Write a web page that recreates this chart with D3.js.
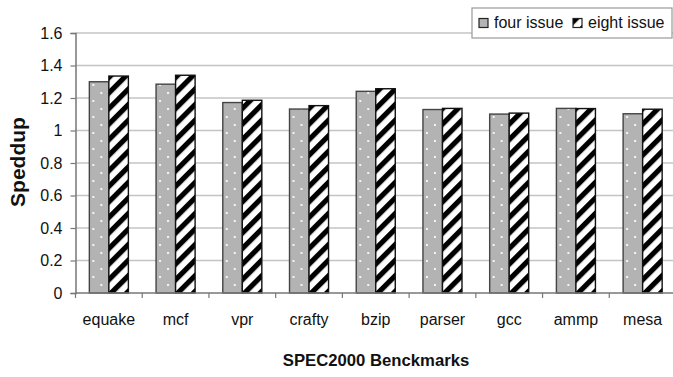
<!DOCTYPE html>
<html>
<head>
<meta charset="utf-8">
<script src="https://cdn.jsdelivr.net/npm/d3@7"></script>
<style>
  body { margin: 0; background: #fff; }
  svg { display: block; font-family: "Liberation Sans", Arial, Helvetica, sans-serif; }
</style>
</head>
<body>
<div id="chart"></div>
<script>
// Data
const benchmarks = ["equake", "mcf", "vpr", "crafty", "bzip", "parser", "gcc", "ammp", "mesa"];
const seriesNames = ["four issue", "eight issue"];
const fourIssue  = [1.300, 1.285, 1.172, 1.132, 1.241, 1.129, 1.101, 1.136, 1.103];
const eightIssue = [1.335, 1.340, 1.186, 1.153, 1.257, 1.136, 1.107, 1.135, 1.131];
const yTicks = [0, 0.2, 0.4, 0.6, 0.8, 1, 1.2, 1.4, 1.6];

const W = 673, H = 377;
const plot = { left: 75.5, right: 676, top: 33, bottom: 293 };

const svg = d3.select("#chart").append("svg")
  .attr("width", W)
  .attr("height", H);

// Fill patterns
const defs = svg.append("defs");
const dots = defs.append("pattern")
  .attr("id", "dots")
  .attr("patternUnits", "userSpaceOnUse")
  .attr("width", 16).attr("height", 16);
dots.append("rect").attr("width", 16).attr("height", 16).attr("fill", "#b3b3b3");
dots.append("rect").attr("x", 3).attr("y", 4).attr("width", 2).attr("height", 2).attr("fill", "#f4f4f4");
dots.append("rect").attr("x", 11).attr("y", 12).attr("width", 2).attr("height", 2).attr("fill", "#f4f4f4");

const hatch = defs.append("pattern")
  .attr("id", "hatch")
  .attr("patternUnits", "userSpaceOnUse")
  .attr("width", 11).attr("height", 11)
  .attr("patternTransform", "rotate(45)");
hatch.append("rect").attr("width", 11).attr("height", 11).attr("fill", "#fff");
hatch.append("rect").attr("width", 5.2).attr("height", 11).attr("fill", "#000");

const fills = ["url(#dots)", "url(#hatch)"];
const strokes = ["#444", "#111"];

// Scales
const x0 = d3.scaleBand()
  .domain(benchmarks)
  .range([plot.left, plot.right])
  .paddingInner(0.415)
  .paddingOuter(0.2075);

const x1 = d3.scaleBand()
  .domain(seriesNames)
  .range([0, x0.bandwidth()]);

const y = d3.scaleLinear()
  .domain([0, 1.6])
  .range([plot.bottom, plot.top]);

// Gridlines
svg.append("g")
  .selectAll("line")
  .data(yTicks.filter(d => d > 0))
  .join("line")
    .attr("x1", plot.left).attr("x2", plot.right)
    .attr("y1", d => y(d)).attr("y2", d => y(d))
    .attr("stroke", "#c4c4c4")
    .attr("stroke-width", 1.5);

// Bars
const rows = benchmarks.map((b, i) => ({ key: b, values: [fourIssue[i], eightIssue[i]] }));
const groups = svg.append("g")
  .selectAll("g")
  .data(rows)
  .join("g")
    .attr("transform", d => `translate(${x0(d.key)},0)`);

groups.selectAll("rect")
  .data(d => d.values.map((v, j) => ({ name: seriesNames[j], value: v, j })))
  .join("rect")
    .attr("x", d => x1(d.name))
    .attr("y", d => y(d.value))
    .attr("width", x1.bandwidth())
    .attr("height", d => y(0) - y(d.value))
    .attr("fill", d => fills[d.j])
    .attr("stroke", d => strokes[d.j])
    .attr("stroke-width", 1.4);

// Y axis
const yAxis = d3.axisLeft(y)
  .tickValues(yTicks)
  .tickSize(5)
  .tickPadding(8)
  .tickFormat(d => String(+d.toFixed(1)));

const yg = svg.append("g")
  .attr("transform", `translate(${plot.left},0)`)
  .call(yAxis);
yg.select(".domain").attr("stroke", "#777").attr("stroke-width", 1.5);
yg.selectAll(".tick line").attr("stroke", "#777").attr("stroke-width", 1.2);
yg.selectAll(".tick text").attr("font-size", 16).attr("fill", "#111")
  .attr("font-family", "'Liberation Sans', Arial, sans-serif");

// X axis line + ticks between categories
const xg = svg.append("g");
xg.append("line")
  .attr("x1", plot.left).attr("x2", plot.right)
  .attr("y1", plot.bottom).attr("y2", plot.bottom)
  .attr("stroke", "#777").attr("stroke-width", 1.5);
const half = (x0.step() - x0.bandwidth()) / 2;
xg.selectAll("line.tick")
  .data(benchmarks)
  .join("line")
    .attr("class", "tick")
    .attr("x1", d => x0(d) - half).attr("x2", d => x0(d) - half)
    .attr("y1", plot.bottom).attr("y2", plot.bottom + 5)
    .attr("stroke", "#777").attr("stroke-width", 1.2);
xg.selectAll("text")
  .data(benchmarks)
  .join("text")
    .attr("x", d => x0(d) + x0.bandwidth() / 2)
    .attr("y", 325)
    .attr("text-anchor", "middle")
    .attr("font-size", 16)
    .attr("fill", "#111")
    .text(d => d);

// Axis titles
svg.append("text")
  .attr("transform", "rotate(-90)")
  .attr("x", -162)
  .attr("y", 25)
  .attr("text-anchor", "middle")
  .attr("font-size", 21)
  .attr("font-weight", "bold")
  .attr("fill", "#111")
  .text("Speddup");

svg.append("text")
  .attr("x", 376)
  .attr("y", 366)
  .attr("text-anchor", "middle")
  .attr("font-size", 16.7)
  .attr("font-weight", "bold")
  .attr("fill", "#111")
  .text("SPEC2000 Benckmarks");

// Legend
const legend = svg.append("g");
legend.append("rect")
  .attr("x", 472).attr("y", 8)
  .attr("width", 200).attr("height", 30)
  .attr("fill", "#fff")
  .attr("stroke", "#999")
  .attr("stroke-width", 1.2);
const legendX = [479, 573];
seriesNames.forEach((name, i) => {
  legend.append("rect")
    .attr("x", legendX[i]).attr("y", 18.5)
    .attr("width", 9).attr("height", 9)
    .attr("fill", i === 0 ? "#b3b3b3" : "url(#hatch)")
    .attr("stroke", "#222")
    .attr("stroke-width", 1.2);
  legend.append("text")
    .attr("x", legendX[i] + 15)
    .attr("y", 28)
    .attr("font-size", 16)
    .attr("fill", "#111")
    .text(name);
});
</script>
</body>
</html>
